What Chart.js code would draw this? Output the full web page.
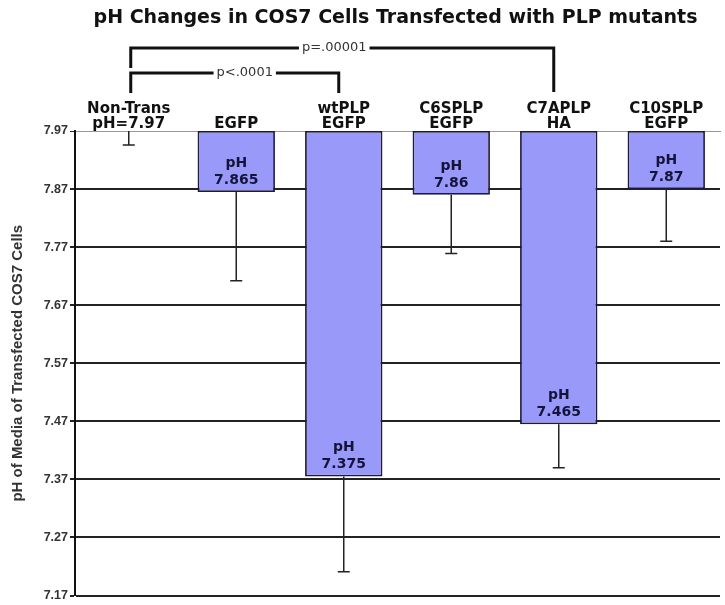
<!DOCTYPE html>
<html>
<head>
<meta charset="utf-8">
<title>pH Changes in COS7 Cells</title>
<script src="https://cdn.jsdelivr.net/npm/chart.js@4/dist/chart.umd.min.js"></script>
<style>
    body { margin: 0; background: #fff; }
    #wrap { width: 725px; height: 605px; }
</style>
</head>
<body>
<div id="wrap"><canvas id="phChart" width="725" height="605"></canvas></div>
<script>
// Chart data
const categories = [
    ['Non-Trans', 'pH=7.97'],
    ['', 'EGFP'],
    ['wtPLP', 'EGFP'],
    ['C6SPLP', 'EGFP'],
    ['C7APLP', 'HA'],
    ['C10SPLP', 'EGFP']
];
const phValues = [7.97, 7.865, 7.375, 7.86, 7.465, 7.87];
const errorLow = [7.946, 7.712, 7.211, 7.759, 7.39, 7.78];
const barLabels = [null, '7.865', '7.375', '7.86', '7.465', '7.87'];
const yTicks = [7.97, 7.87, 7.77, 7.67, 7.57, 7.47, 7.37, 7.27, 7.17];
const baseline = 7.97;
const comparisons = [
    { from: 0, to: 2, label: 'p<.0001' },
    { from: 0, to: 4, label: 'p=.00001' }
];

const titleText = 'pH Changes in COS7 Cells Transfected with PLP mutants';

// bracket drawing levels (pixels), same order as comparisons
const bracketLevels = [
    { y: 73, dropLeft: 93, dropRight: 93, textShift: 10 },
    { y: 48, dropLeft: 68, dropRight: 92, textShift: -8 }
];

const overlayPlugin = {
    id: 'overlay',
    afterDatasetsDraw(chart) {
        const ctx = chart.ctx;
        const yScale = chart.scales.y;
        const meta = chart.getDatasetMeta(0);

        // error bars (lower side only)
        ctx.save();
        ctx.strokeStyle = '#222';
        ctx.lineWidth = 1.5;
        meta.data.forEach((bar, i) => {
            const y1 = yScale.getPixelForValue(phValues[i]);
            const y2 = yScale.getPixelForValue(errorLow[i]);
            ctx.beginPath();
            ctx.moveTo(bar.x, y1);
            ctx.lineTo(bar.x, y2);
            ctx.moveTo(bar.x - 6, y2);
            ctx.lineTo(bar.x + 6, y2);
            ctx.stroke();
        });

        // value labels inside bars
        ctx.fillStyle = '#14143a';
        ctx.font = 'bold 14px "DejaVu Sans", Verdana, sans-serif';
        ctx.textAlign = 'center';
        ctx.textBaseline = 'middle';
        meta.data.forEach((bar, i) => {
            if (!barLabels[i]) return;
            const bottom = yScale.getPixelForValue(phValues[i]);
            ctx.fillText('pH', bar.x, bottom - 29);
            ctx.fillText(barLabels[i], bar.x, bottom - 12);
        });
        ctx.restore();
    },
    afterDraw(chart) {
        const ctx = chart.ctx;
        const area = chart.chartArea;
        const xScale = chart.scales.x;

        ctx.save();
        // title
        ctx.fillStyle = '#111';
        ctx.font = 'bold 19px "DejaVu Sans", Verdana, sans-serif';
        ctx.textAlign = 'center';
        ctx.textBaseline = 'middle';
        ctx.fillText(titleText, (area.left + area.right) / 2 - 2, 18);

        // significance brackets
        ctx.font = '13px "DejaVu Sans", Verdana, sans-serif';
        ctx.strokeStyle = '#111';
        ctx.lineWidth = 3;
        comparisons.forEach((c, k) => {
            const lv = bracketLevels[k];
            const x1 = xScale.getPixelForValue(c.from) + 2;
            const x2 = xScale.getPixelForValue(c.to) - 5;
            const tx = (x1 + x2) / 2 + lv.textShift;
            const half = ctx.measureText(c.label).width / 2 + 3;
            ctx.beginPath();
            ctx.moveTo(x1, lv.dropLeft);
            ctx.lineTo(x1, lv.y);
            ctx.lineTo(tx - half, lv.y);
            ctx.moveTo(tx + half, lv.y);
            ctx.lineTo(x2, lv.y);
            ctx.lineTo(x2, lv.dropRight);
            ctx.stroke();
            ctx.fillStyle = '#333';
            ctx.fillText(c.label, tx, lv.y);
        });
        ctx.restore();
    }
};

new Chart(document.getElementById('phChart'), {
    type: 'bar',
    data: {
        labels: categories,
        datasets: [{
            data: phValues.map(v => [baseline, v]),
            backgroundColor: '#9999fa',
            borderColor: '#1c1c3a',
            borderWidth: ctx => (barLabels[ctx.dataIndex] ? 1.8 : 0),
            borderSkipped: false,
            barPercentage: 0.72,
            categoryPercentage: 1
        }]
    },
    options: {
        responsive: false,
        animation: false,
        layout: { padding: { left: 0, right: 5, top: 0, bottom: 8 } },
        plugins: {
            legend: { display: false },
            tooltip: { enabled: false },
            title: { display: false }
        },
        scales: {
            x: {
                position: 'top',
                afterFit: scale => { scale.height = 131; },
                grid: { display: false, drawTicks: false },
                border: { display: true, color: '#999', width: 1 },
                ticks: {
                    color: '#111',
                    padding: -1,
                    autoSkip: false,
                    maxRotation: 0,
                    font: { family: '"DejaVu Sans", Verdana, sans-serif', size: 15, weight: 'bold', lineHeight: 1.02 }
                }
            },
            y: {
                min: 7.17,
                max: 7.97,
                afterFit: scale => { scale.width = 75; },
                afterBuildTicks: scale => { scale.ticks = yTicks.map(v => ({ value: v })); },
                grid: {
                    color: ctx => (ctx.tick && ctx.tick.value === baseline ? '#999' : '#222'),
                    lineWidth: ctx => (ctx.tick && ctx.tick.value === baseline ? 1 : 2),
                    tickColor: '#222',
                    tickLength: 5
                },
                border: { display: true, color: '#111', width: 2 },
                ticks: {
                    color: '#333',
                    padding: 2,
                    font: { family: '"Liberation Sans", Arial, sans-serif', size: 12.5, weight: 'bold' },
                    callback: v => v.toFixed(2)
                },
                title: {
                    display: true,
                    text: 'pH of Media of Transfected COS7 Cells',
                    color: '#333',
                    padding: { top: 9, bottom: 0 },
                    font: { family: '"Liberation Sans", Arial, sans-serif', size: 15, weight: 'bold' }
                }
            }
        }
    },
    plugins: [overlayPlugin]
});
</script>
</body>
</html>
